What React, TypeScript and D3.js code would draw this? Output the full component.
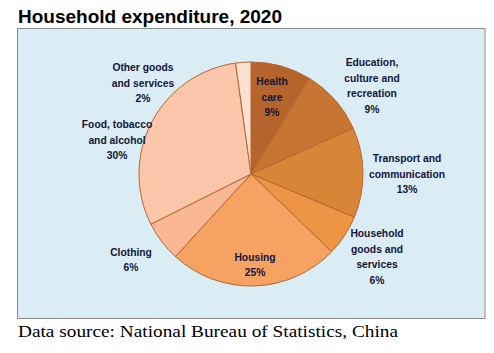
import React from 'react';
import * as d3 from 'd3';

const categories = [
  'Health care',
  'Education, culture and recreation',
  'Transport and communication',
  'Household goods and services',
  'Housing',
  'Clothing',
  'Food, tobacco and alcohol',
  'Other goods and services',
];
const shares = [8.7, 9.6, 13.0, 5.9, 24.6, 5.8, 30.2, 2.2];
const pctLabels = ['9%', '9%', '13%', '6%', '25%', '6%', '30%', '2%'];
const labelLines = [
  ['Health', 'care'],
  ['Education,', 'culture and', 'recreation'],
  ['Transport and', 'communication'],
  ['Household', 'goods and', 'services'],
  ['Housing'],
  ['Clothing'],
  ['Food, tobacco', 'and alcohol'],
  ['Other goods', 'and services'],
];

const colors = ['#b5652c', '#c87432', '#d98538', '#ee9445', '#f6a262', '#f9b794', '#fbc6aa', '#fde0d3'];
// label centre offsets from the pie centre
const labelOffsets = [
  [21, -77], [121, -88], [156, 0], [126, 83], [4, 91], [-120, 86], [-134, -34], [-108, -91],
];

const W = 494;
const H = 353;
const cx = 251;
const cy = 174;
const radius = 112;
const lineH = 15.5;

export default function App() {
  const pie = d3.pie<number>().sort(null).startAngle(0).endAngle(2 * Math.PI);
  const arcs = pie(shares);
  const arc = d3.arc<d3.PieArcDatum<number>>().innerRadius(0).outerRadius(radius);

  return (
    <svg width={W} height={H} style={{ position: 'absolute', left: 0, top: 0 }}>
      <rect width={W} height={H} fill="#ffffff" />
      <text x={18} y={23} fontFamily="'Liberation Sans', Arial, sans-serif" fontWeight="bold" fontSize={19} fill="#000">
        Household expenditure, 2020
      </text>
      <rect x={17.5} y={28.5} width={467.5} height={290} fill="#daedf4" stroke="#8a8a8a" strokeWidth={1} />
      <g transform={`translate(${cx},${cy})`}>
        {arcs.map((a, i) => (
          <path key={categories[i]} d={arc(a) || ''} fill={colors[i]} stroke="#b3672f" strokeWidth={1} />
        ))}
        {arcs.map((a, i) => {
          const lines = [...labelLines[i], pctLabels[i]];
          const [ox, oy] = labelOffsets[i];
          const y0 = oy - ((lines.length - 1) * lineH) / 2;
          return (
            <text
              key={'l' + i}
              textAnchor="middle"
              fontFamily="'Liberation Sans', Arial, sans-serif"
              fontWeight="bold"
              fontSize={10.3}
              fill="#14143a"
            >
              {lines.map((ln, j) => (
                <tspan key={j} x={ox} y={y0 + j * lineH} dy="0.35em">
                  {ln}
                </tspan>
              ))}
            </text>
          );
        })}
      </g>
      <text
        x={18}
        y={337}
        fontFamily="'Liberation Serif', 'Times New Roman', serif"
        fontSize={17.5}
        fill="#000"
        textLength={380}
        lengthAdjust="spacingAndGlyphs"
      >
        Data source: National Bureau of Statistics, China
      </text>
    </svg>
  );
}
